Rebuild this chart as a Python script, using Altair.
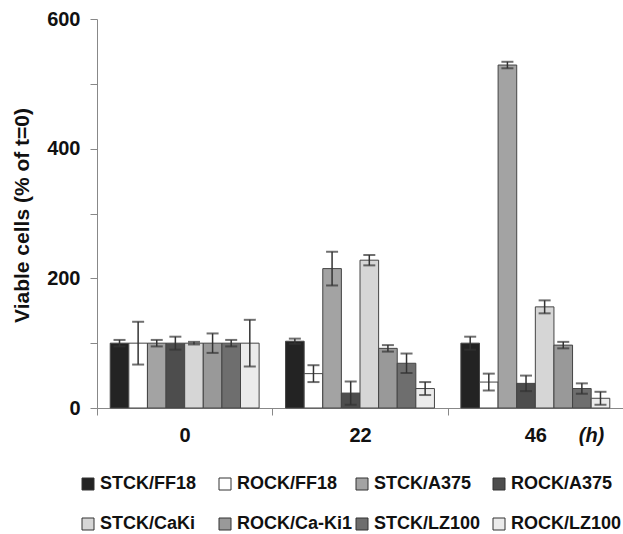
import altair as alt
import pandas as pd

groups = ["0", "22", "46"]
series = ["STCK/FF18", "ROCK/FF18", "STCK/A375", "ROCK/A375",
          "STCK/CaKi", "ROCK/Ca-Ki1", "STCK/LZ100", "ROCK/LZ100"]
values = {
    "STCK/FF18":   [100, 103, 100],
    "ROCK/FF18":   [100, 53, 40],
    "STCK/A375":   [100, 215, 529],
    "ROCK/A375":   [100, 23, 38],
    "STCK/CaKi":   [100, 228, 156],
    "ROCK/Ca-Ki1": [100, 92, 97],
    "STCK/LZ100":  [100, 69, 30],
    "ROCK/LZ100":  [100, 30, 15],
}
errors = {
    "STCK/FF18":   [5, 4, 10],
    "ROCK/FF18":   [33, 13, 13],
    "STCK/A375":   [5, 26, 5],
    "ROCK/A375":   [10, 18, 12],
    "STCK/CaKi":   [2, 8, 10],
    "ROCK/Ca-Ki1": [15, 5, 5],
    "STCK/LZ100":  [5, 15, 8],
    "ROCK/LZ100":  [36, 10, 10],
}
colors = ["#232323", "#ffffff", "#a3a3a3", "#4d4d4d",
          "#d6d6d6", "#999999", "#6e6e6e", "#ebebeb"]
y_ticks = list(range(0, 601, 50))

rows = []
for s in series:
    for g, v, e in zip(groups, values[s], errors[s]):
        rows.append({"group": g, "series": s, "value": v,
                     "lo": v - e, "hi": v + e})
df = pd.DataFrame(rows)

FONT = "Liberation Sans"

x_enc = alt.X("group:N", sort=groups,
              scale=alt.Scale(paddingInner=0, paddingOuter=0),
              axis=alt.Axis(title="(h)", labelAngle=0, tickBand="extent",
                            grid=False,
                            labelFontSize=20, labelFontWeight="bold",
                            labelFont=FONT, labelColor="#111",
                            labelPadding=10, tickSize=7,
                            domainColor="#888", tickColor="#888",
                            titleFont=FONT, titleFontSize=20,
                            titleFontWeight="bold", titleFontStyle="italic",
                            titleX=494, titleY=27, titleAlign="center",
                            titleBaseline="middle", titleColor="#111"))
xoff = alt.XOffset("series:N", sort=series,
                   scale=alt.Scale(paddingInner=0, paddingOuter=0.71))
y_scale = alt.Scale(domain=[0, 600], nice=False)

bars = alt.Chart(df).mark_bar(stroke="#444", strokeWidth=1).encode(
    x=x_enc,
    xOffset=xoff,
    y=alt.Y("value:Q", scale=y_scale,
            axis=alt.Axis(title="Viable cells  (% of t=0)", values=y_ticks,
                          grid=False,
                          labelExpr="datum.value % 200 == 0 ? datum.label : ''",
                          labelFontSize=20, labelFontWeight="bold",
                          labelFont=FONT, labelColor="#111",
                          labelPadding=10, tickSize=7,
                          domainColor="#888", tickColor="#888",
                          titleFont=FONT, titleFontSize=21,
                          titleFontWeight="bold", titleColor="#111",
                          titleX=-75, titleY=196, titleAngle=-90,
                          titleAlign="center", titleBaseline="middle")),
    color=alt.Color("series:N", sort=series,
                    scale=alt.Scale(domain=series, range=colors),
                    legend=alt.Legend(title=None, orient="none",
                                      legendX=-18, legendY=456,
                                      columns=4, direction="horizontal",
                                      gridAlign="all", columnPadding=0,
                                      rowPadding=22,
                                      symbolType="square", symbolSize=144,
                                      symbolStrokeColor="#333",
                                      symbolStrokeWidth=1,
                                      labelFont=FONT, labelFontSize=18,
                                      labelFontWeight="bold",
                                      labelColor="#111", labelOffset=3,
                                      labelLimit=200)),
)

rules = alt.Chart(df).mark_rule(color="#333", strokeWidth=1.5).encode(
    x=alt.X("group:N", sort=groups),
    xOffset=xoff,
    y=alt.Y("lo:Q", scale=y_scale),
    y2="hi:Q",
)
caps_hi = alt.Chart(df).mark_tick(color="#333", thickness=2, size=12).encode(
    x=alt.X("group:N", sort=groups),
    xOffset=xoff,
    y=alt.Y("hi:Q", scale=y_scale),
)
caps_lo = alt.Chart(df).mark_tick(color="#333", thickness=2, size=12).encode(
    x=alt.X("group:N", sort=groups),
    xOffset=xoff,
    y=alt.Y("lo:Q", scale=y_scale),
)

chart = alt.layer(bars, rules, caps_hi, caps_lo).properties(
    width=526, height=389,
    autosize=alt.AutoSizeParams(type="none"),
    padding={"left": 97, "top": 19, "right": 0, "bottom": 126},
    background="white",
).configure_view(stroke=None)

chart.save("out.html", embed_options={"renderer": "svg", "actions": False})
